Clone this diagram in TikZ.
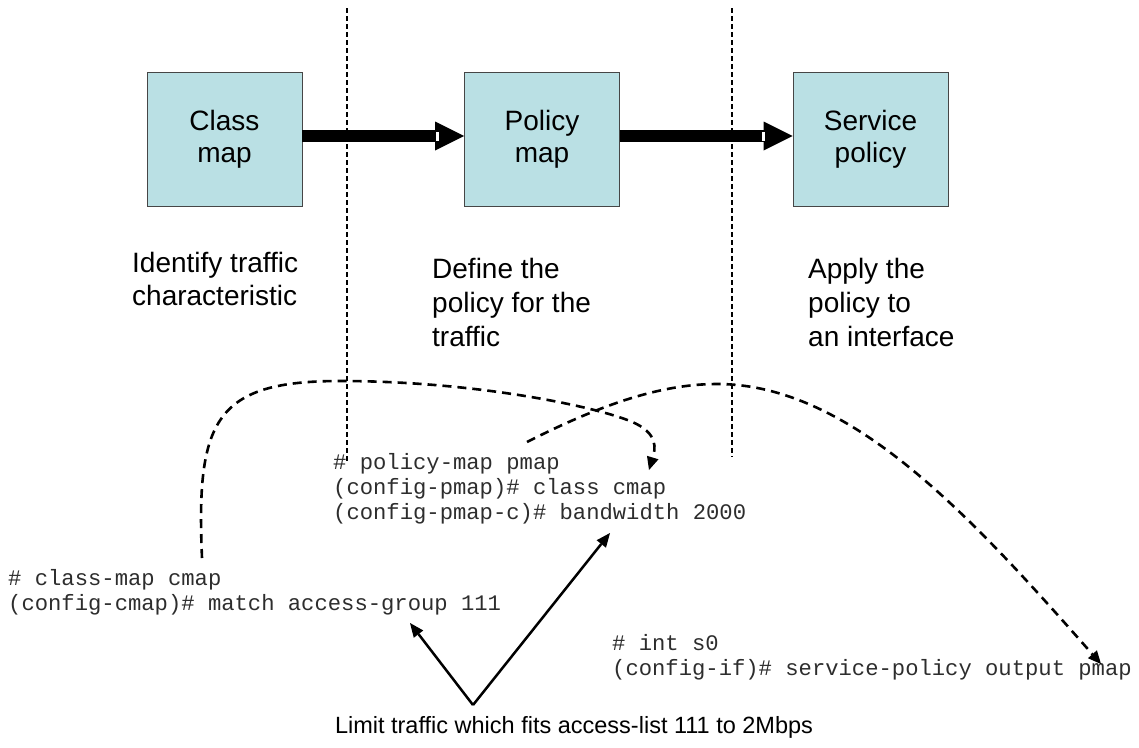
\documentclass[tikz,border=0pt]{standalone}
\usepackage{fontspec}
\setmainfont{Liberation Sans}
\setmonofont{Liberation Mono}
\usetikzlibrary{arrows.meta}
\definecolor{boxfill}{RGB}{186,224,228}
\definecolor{boxline}{RGB}{70,70,70}
\definecolor{codegray}{RGB}{45,45,45}
\begin{document}
\begin{tikzpicture}[x=1pt,y=-1pt,
  stagebox/.style={draw=boxline, line width=0.8pt, fill=boxfill,
    minimum width=155pt, minimum height=134pt, inner sep=0pt,
    align=center, font=\fontsize{28}{32}\selectfont},
  caption/.style={anchor=base west, align=left, inner sep=0pt,
    font=\fontsize{28}{33}\selectfont},
  code/.style={anchor=base west, align=left, inner sep=0pt, text=codegray,
    font=\ttfamily\fontsize{22.2}{25}\selectfont},
  divider/.style={dash pattern=on 5pt off 3pt, line width=1.6pt},
  flow/.style={line width=12pt,
    -{Triangle[length=29pt,width=29pt,line width=0pt]}},
  link/.style={dash pattern=on 9pt off 6pt, line width=2.6pt,
    -{Triangle[length=13pt,width=12pt,line width=0pt]}},
  pointer/.style={line width=2.5pt,
    -{Triangle[length=14pt,width=12pt,line width=0pt]}}]
\useasboundingbox (0,0) rectangle (1139,747);

% the three stages
\node[stagebox] (cls) at (224.5,139) {Class\\map};
\node[stagebox] (pol) at (542,139) {Policy\\map};
\node[stagebox] (srv) at (870.5,139) {Service\\policy};

% block arrows between the stages
\draw[flow] ([yshift=3pt]cls.east) -- ([yshift=3pt]pol.west);
\draw[flow] ([yshift=3pt]pol.east) -- ([yshift=3pt]srv.west);
\fill[white] ([xshift=-28pt,yshift=7.5pt]pol.west) rectangle ([xshift=-25pt,yshift=-1.5pt]pol.west);
\fill[white] ([xshift=-31pt,yshift=7.5pt]srv.west) rectangle ([xshift=-28pt,yshift=-1.5pt]srv.west);

% stage separators
\coordinate (d1top) at (347,8);
\coordinate (d1bot) at (347,462);
\coordinate (d2top) at (732,8);
\coordinate (d2bot) at (732,457);
\draw[divider] (d1top) -- (d1bot);
\draw[divider] (d2top) -- (d2bot);

% stage descriptions (anchored at the baseline of the last line)
\node[caption] (identify) at (132,305) {Identify traffic\\characteristic};
\node[caption, font=\fontsize{28}{34}\selectfont] (define) at (432,346) {Define the\\policy for the\\traffic};
\node[caption, font=\fontsize{28}{34}\selectfont] (apply) at (808,346) {Apply the\\policy to\\an interface};

% configuration snippets (anchored at the baseline of the last line)
\node[code] (pmapcfg) at (333,519) {\# policy-map pmap\\(config-pmap)\# class cmap\\(config-pmap-c)\# bandwidth 2000};
\node[code] (cmapcfg) at (8,610) {\# class-map cmap\\(config-cmap)\# match access-group 111};
\node[code] (ifcfg) at (612,675) {\# int s0\\(config-if)\# service-policy output pmap};

% references between the snippets
\coordinate (c1s) at (202,558);
\coordinate (c1e) at (649,470);
\draw[link] (c1s) .. controls (196,420) and (215,381) .. (340,381)
  .. controls (470,381) and (590,405) .. (630,421)
  .. controls (660,433) and (655,450) .. (c1e);
\coordinate (c2s) at (527,442);
\coordinate (c2e) at (1101,664);
\draw[link] (c2s) .. controls (600,405) and (660,384) .. (717,384)
  .. controls (850,384) and (970,515) .. (c2e);

% bandwidth limit note
\coordinate (apex) at (473,705);
\coordinate (tipA) at (410,623);
\coordinate (tipB) at (610,533);
\draw[pointer] (apex) -- (tipA);
\draw[pointer] (apex) -- (tipB);
\node[anchor=base, inner sep=0pt, font=\fontsize{23.5}{28}\selectfont] (limit) at (574,733) {Limit traffic which fits access-list 111 to 2Mbps};
\end{tikzpicture}
\end{document}
